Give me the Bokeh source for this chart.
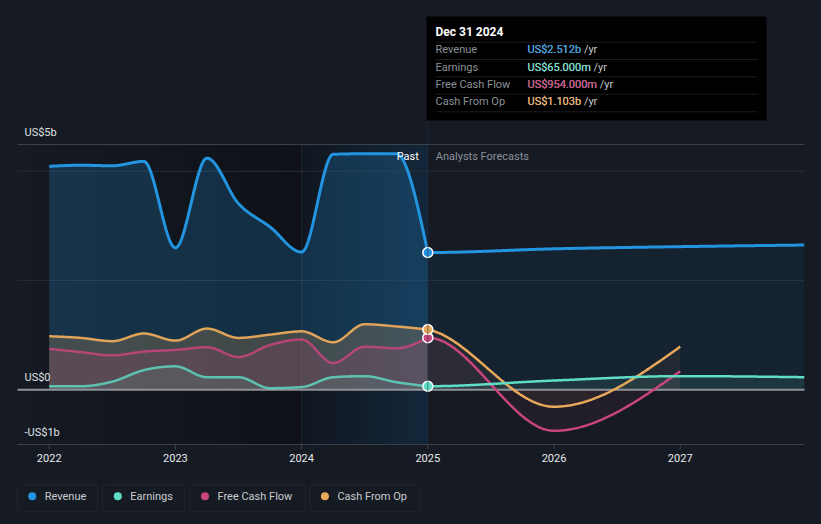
import numpy as np
from bokeh.plotting import figure
from bokeh.models import Range1d, Label, BoxAnnotation, GlobalInlineStyleSheet
from bokeh.embed import file_html
from bokeh.resources import INLINE

# ---------------- data (US$ billions) ----------------
past_dates = [2022.0, 2022.25, 2022.5, 2022.75, 2023.0, 2023.25, 2023.5, 2023.75,
              2024.0, 2024.25, 2024.5, 2024.75, 2025.0]
revenue_past = [4.09, 4.11, 4.10, 4.18, 2.60, 4.24, 3.41, 2.98, 2.52, 4.31, 4.32, 4.32, 2.512]
earnings_past = [0.065, 0.065, 0.15, 0.36, 0.43, 0.23, 0.23, 0.03, 0.05, 0.23, 0.25, 0.14, 0.065]
fcf_past = [0.75, 0.69, 0.63, 0.70, 0.73, 0.78, 0.60, 0.82, 0.92, 0.49, 0.79, 0.76, 0.954]
cfo_past = [0.98, 0.95, 0.89, 1.03, 0.90, 1.12, 0.95, 1.01, 1.07, 0.87, 1.20, 1.16, 1.103]

fc_dates_long = [2025.0, 2026.0, 2027.0, 2028.0]
revenue_fc = [2.512, 2.58, 2.62, 2.65]
earnings_fc = [0.065, 0.17, 0.25, 0.23]
fc_dates_short = [2025.0, 2026.0, 2027.0]
fcf_fc = [0.954, -0.75, 0.34]
cfo_fc = [1.103, -0.31, 0.79]

series_names = ["Revenue", "Earnings", "Free Cash Flow", "Cash From Op"]
series_colors = ["#2394DF", "#5FDDC5", "#C8457E", "#E9A95B"]
year_ticks = [2022, 2023, 2024, 2025, 2026, 2027]
year_labels = ["2022", "2023", "2024", "2025", "2026", "2027"]
grid_values = [2, 4]
y_label_values = [4.49, 0, -1.0]
y_label_texts = ["US$5b", "US$0", "-US$1b"]
tooltip_title = "Dec 31 2024"
past_end = 2025.0
highlight_start = 2024.0

# ---------------- geometry ----------------
W, H = 821, 524
PX_YEAR, PX_B = 126.2, 54.64          # pixels per year / per US$1b
X0_PAGE, Y0_PAGE = 48.7, 389.3        # page position of (2022, 0)
x_start = 2022 - X0_PAGE / PX_YEAR
x_end = x_start + W / PX_YEAR
y_end = Y0_PAGE / PX_B
y_start = y_end - H / PX_B
x_lo, x_hi = 2021.749, 2027.985       # plot area
y_lo, y_hi = -1.0, 4.49
BG = "#151a23"
FONT = "Roboto"


def sx(X):
    return X


def sy(Y):
    return H - Y


def mono_slopes(x, y):
    n = len(x)
    h = np.diff(x)
    s = np.diff(y) / h
    m = np.zeros(n)
    if n == 2:
        m[:] = s[0]
        return m
    for i in range(1, n - 1):
        p_ = (s[i - 1] * h[i] + s[i] * h[i - 1]) / (h[i - 1] + h[i])
        m[i] = (np.sign(s[i - 1]) + np.sign(s[i])) * min(abs(s[i - 1]), abs(s[i]), 0.5 * abs(p_))
    m[0] = (3 * s[0] - m[1]) / 2
    m[-1] = (3 * s[-1] - m[-2]) / 2
    return m


def smooth(x, y, n=120):
    x = np.asarray(x, float)
    y = np.asarray(y, float)
    m = mono_slopes(x, y)
    xs, ys = [], []
    for i in range(len(x) - 1):
        h = x[i + 1] - x[i]
        t = np.linspace(0, 1, n, endpoint=(i == len(x) - 2))
        h00 = 2 * t**3 - 3 * t**2 + 1
        h10 = t**3 - 2 * t**2 + t
        h01 = -2 * t**3 + 3 * t**2
        h11 = t**3 - t**2
        xs.append(x[i] + t * h)
        ys.append(h00 * y[i] + h10 * h * m[i] + h01 * y[i + 1] + h11 * h * m[i + 1])
    return np.concatenate(xs), np.concatenate(ys)


def forecast_curve(past, fdates, fvals):
    x, y = smooth([past_dates[-2]] + list(fdates), [past[-2]] + list(fvals))
    keep = (x >= fdates[0] - 1e-9) & (x <= x_hi)
    return x[keep], y[keep]


def fmt(v):
    return f"US${v:.3f}b" if abs(v) >= 1 else f"US${v * 1000:.3f}m"


p = figure(width=W, height=H, x_range=Range1d(x_start, x_end), y_range=Range1d(y_start, y_end),
           output_backend="svg", toolbar_location=None, x_axis_location=None,
           y_axis_location=None, min_border=0)
p.background_fill_color = BG
p.border_fill_color = BG
p.outline_line_color = None
p.xgrid.visible = False
p.ygrid.visible = False
p.stylesheets = [GlobalInlineStyleSheet(css="html, body { background-color: #151a23; }")]


# ---------------- background shading ----------------
def strips(a, b, c0, c1, n=40):
    edges = np.linspace(a, b, n + 1)
    cols = []
    for k in range(n):
        f = (k + 0.5) / n
        c = [int(round(c0[j] + (c1[j] - c0[j]) * f)) for j in range(3)]
        cols.append("#%02x%02x%02x" % tuple(c))
    p.quad(left=edges[:-1], right=edges[1:] + 1e-4, bottom=y_lo, top=y_hi,
           fill_color=cols, line_color=None)


strips(x_lo, highlight_start, (21, 26, 35), (14, 17, 23))
strips(highlight_start, past_end, (16, 22, 31), (19, 40, 60))

# grid lines, plot-area top line, vertical markers
p.segment(x0=x_lo, x1=x_hi, y0=grid_values, y1=grid_values, line_color="#262c36", line_width=1)
p.segment(x0=[x_lo], x1=[x_hi], y0=[y_hi], y1=[y_hi], line_color="#3f444c", line_width=1)
p.segment(x0=[highlight_start], x1=[highlight_start], y0=[y_lo], y1=[y_hi],
          line_color="#1b2938", line_width=1)
p.add_layout(BoxAnnotation(left=past_end, right=past_end, top=sy(120), top_units="screen",
                           bottom=y_lo, fill_alpha=0, line_color="#27394b", line_width=1))

# ---------------- series ----------------
series = [
    (series_colors[0], revenue_past, fc_dates_long, revenue_fc, 0.22, 0.07, 3, 1.0),
    (series_colors[3], cfo_past, fc_dates_short, cfo_fc, 0.22, 0.06, 2.5, 0.95),
    (series_colors[2], fcf_past, fc_dates_short, fcf_fc, 0.16, 0.07, 2.5, 0.85),
    (series_colors[1], earnings_past, fc_dates_long, earnings_fc, 0.10, 0.10, 2.5, 0.8),
]

curves = []
for col, past, fd, fv, pa, fa, w, la in series:
    px, py = smooth(past_dates, past)
    fx, fy = forecast_curve(past, fd, fv)
    p.varea(x=px, y1=0, y2=py, fill_color=col, fill_alpha=pa)
    p.varea(x=fx, y1=0, y2=fy, fill_color=col, fill_alpha=fa)
    curves.append((px, py, fx, fy, col, w, la))

# zero line and x axis line / ticks
p.segment(x0=[x_lo], x1=[x_hi], y0=[0], y1=[0], line_color="#8f9296", line_width=2)
p.segment(x0=[x_lo], x1=[x_hi], y0=[y_lo], y1=[y_lo], line_color="#3d434d", line_width=1)
p.segment(x0=year_ticks, x1=year_ticks, y0=y_lo, y1=y_lo - 5 / PX_B,
          line_color="#3d434d", line_width=1)

for px, py, fx, fy, col, w, la in curves:
    p.line(px, py, line_color=col, line_width=w, line_alpha=la)
    p.line(fx, fy, line_color=col, line_width=w)

last_vals = [revenue_past[-1], earnings_past[-1], fcf_past[-1], cfo_past[-1]]
p.scatter(x=[past_dates[-1]] * 4, y=last_vals, size=10, fill_color=series_colors,
          line_color="white", line_width=1.5)


# ---------------- text ----------------
def label(x, y, text, color, size="11px", xu="screen", yu="screen", align="left",
          xo=0, yo=0, style="normal"):
    p.add_layout(Label(x=x, y=y, x_units=xu, y_units=yu, text=text, text_color=color,
                       text_font=FONT, text_font_size=size, text_align=align,
                       text_baseline="middle", x_offset=xo, y_offset=yo,
                       text_font_style=style))


for v, t in zip(y_label_values, y_label_texts):
    label(sx(24), v, t, "#dfe1e4", yu="data", yo=12)
for v, t in zip(year_ticks, year_labels):
    label(v, y_lo, t, "#e8e9eb", xu="data", yu="data", align="center", yo=-13.5)
label(past_end, y_hi, "Past", "#ffffff", xu="data", yu="data", align="right", xo=-9, yo=-12)
label(past_end, y_hi, "Analysts Forecasts", "#8c9096", xu="data", yu="data", xo=8, yo=-12)

# tooltip
p.add_layout(BoxAnnotation(left=sx(426), right=sx(766), top=sy(16), bottom=sy(120),
                           left_units="screen", right_units="screen", top_units="screen",
                           bottom_units="screen", fill_color="#000000", fill_alpha=1,
                           line_color=None))
label(sx(435), sy(31), tooltip_title, "#ffffff", size="12px", style="bold")
row_y = [49.3, 66.7, 84, 101.3]
sep_y = [41.7, 59, 76.3, 93.7, 111.3]
for yy in sep_y:
    p.add_layout(BoxAnnotation(left=sx(435), right=sx(757), top=sy(yy), bottom=sy(yy),
                               left_units="screen", right_units="screen", top_units="screen",
                               bottom_units="screen", fill_alpha=0, line_color="#34383e",
                               line_width=1))
for i in range(4):
    label(sx(435), sy(row_y[i]), series_names[i], "#8b9096")
    label(sx(527), sy(row_y[i]), fmt(last_vals[i]) + " /yr", "#c4c7cb")
    label(sx(527), sy(row_y[i]), fmt(last_vals[i]), series_colors[i])

# legend
leg_left = [16.7, 102.3, 189.5, 309.4]
leg_right = [97.3, 184.3, 304.7, 419.4]
leg_top, leg_bottom, leg_mid = 484.3, 511.3, 495.7
for i in range(4):
    p.add_layout(BoxAnnotation(left=sx(leg_left[i]), right=sx(leg_right[i]), top=sy(leg_top),
                               bottom=sy(leg_bottom), left_units="screen", right_units="screen",
                               top_units="screen", bottom_units="screen", fill_alpha=0,
                               line_color="#3b4049", line_width=1, border_radius=3))
    cx = leg_left[i] + 15
    p.add_layout(BoxAnnotation(left=sx(cx - 4), right=sx(cx + 4), top=sy(leg_mid - 4),
                               bottom=sy(leg_mid + 4), left_units="screen", right_units="screen",
                               top_units="screen", bottom_units="screen",
                               fill_color=series_colors[i], fill_alpha=1, line_color=None,
                               border_radius=4))
    label(sx(leg_left[i] + 27.5), sy(leg_mid), series_names[i], "#c9ccd1")

open("out.html", "w").write(file_html(p, INLINE))
